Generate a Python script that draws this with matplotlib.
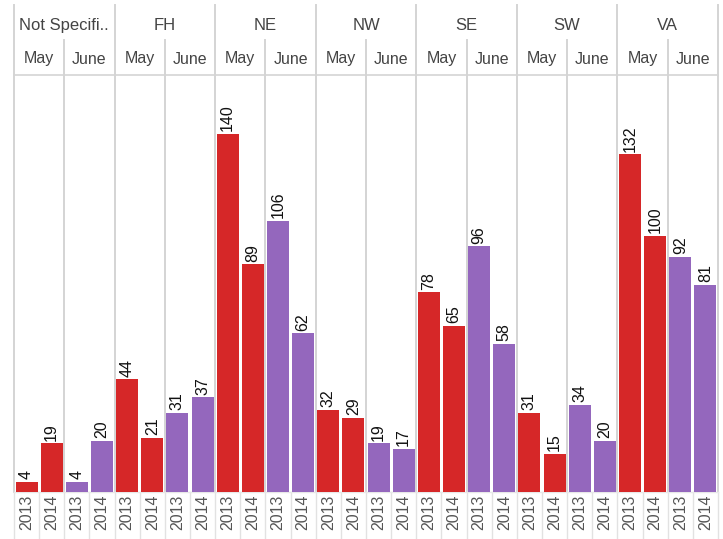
import matplotlib
matplotlib.use("Agg")
import matplotlib.pyplot as plt
import matplotlib.transforms as mtransforms

# data
regions = ["Not Specifi..", "FH", "NE", "NW", "SE", "SW", "VA"]
months = ["May", "June"]
years = ["2013", "2014"]
may_2013 = [4, 44, 140, 32, 78, 31, 132]
may_2014 = [19, 21, 89, 29, 65, 15, 100]
june_2013 = [4, 31, 106, 19, 96, 34, 92]
june_2014 = [20, 37, 62, 17, 58, 20, 81]

month_colors = {"May": "#d62728", "June": "#9467bd"}
grid_col = "#d4d4d4"

plt.rcParams["font.family"] = ["Liberation Sans", "DejaVu Sans"]

W, H = 723, 539
fig = plt.figure(figsize=(W / 100, H / 100), dpi=100)
left, right, top, bottom = 14, 718, 75, 492
ax = fig.add_axes([left / W, 1 - bottom / H, (right - left) / W, (bottom - top) / H])

series = {("May", "2013"): may_2013, ("May", "2014"): may_2014,
          ("June", "2013"): june_2013, ("June", "2014"): june_2014}

xs, vals, cols, xlabels = [], [], [], []
i = 0
for r in range(len(regions)):
    for m in months:
        for y in years:
            xs.append(i)
            vals.append(series[(m, y)][r])
            cols.append(month_colors[m])
            xlabels.append(y)
            i += 1

ax.bar(xs, vals, width=0.87, color=cols, zorder=3)
for x, v in zip(xs, vals):
    ax.annotate(str(v), (x, v), xytext=(0, 2), textcoords="offset points",
                rotation=90, ha="center", va="bottom", fontsize=11.5, color="#111111")

n = len(xs)
ax.set_xlim(-0.5, n - 0.5)
ax.set_ylim(0, 163)
ax.set_yticks([])
ax.set_xticks(xs)
ax.set_xticklabels(xlabels, rotation=90, fontsize=11.5, color="#555555")
ax.tick_params(axis="x", length=0, pad=2)
for s in ax.spines.values():
    s.set_visible(False)

# grid / header lines, x in data, y in axes coords (extend outside axes)
trans = mtransforms.blended_transform_factory(ax.transData, ax.transAxes)
ph = bottom - top
def yax(px):
    return (bottom - px) / ph

for b in range(0, n + 1, 2):
    xb = b - 0.5
    y_top = yax(5) if b % 4 == 0 else yax(40)
    ax.plot([xb, xb], [yax(492), y_top], color=grid_col, lw=1.4,
            transform=trans, clip_on=False, zorder=1)
# separators in the year label strip
for b in range(0, n + 1):
    xb = b - 0.5
    ax.plot([xb, xb], [yax(539), yax(492)], color="#e2e2e2", lw=1.0,
            transform=trans, clip_on=False, zorder=1)

ax.plot([-0.5, n - 0.5], [yax(75), yax(75)], color=grid_col, lw=1.2,
        transform=trans, clip_on=False)
ax.plot([-0.5, n - 0.5], [yax(492), yax(492)], color="#e8e8e8", lw=1.0,
        transform=trans, clip_on=False, zorder=2)

# header labels
for r, name in enumerate(regions):
    ax.text(r * 4 + 1.5, yax(25), name, transform=trans, ha="center", va="center",
            fontsize=12, color="#444444")
    for k, m in enumerate(months):
        ax.text(r * 4 + k * 2 + 0.5, yax(59), m, transform=trans, ha="center",
                va="center", fontsize=11.5, color="#444444")

fig.savefig("out.png", dpi=100)
